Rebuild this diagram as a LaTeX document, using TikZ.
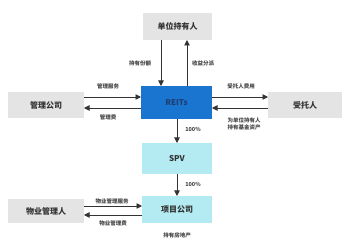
\documentclass[tikz,border=0pt]{standalone}
\usepackage{fontspec}
\setmainfont{Noto Sans CJK SC}
\usetikzlibrary{arrows.meta}
\definecolor{boxgrey}{HTML}{E4E4E4}
\definecolor{reitblue}{HTML}{1A75D0}
\definecolor{spvcyan}{HTML}{B4EAF1}
\definecolor{txt}{HTML}{333333}
\definecolor{reittxt}{HTML}{1E3E70}
\tikzset{
  x=1pt,y=-1pt,
  ent/.style={inner sep=0pt,font=\fontsize{8}{9}\selectfont\bfseries,text=txt},
  lbl/.style={inner sep=0pt,font=\fontsize{5.5}{6.7}\selectfont\bfseries,text=txt!90,align=left},
  flow/.style={draw=txt,line width=0.9pt,-{Triangle[length=5.5pt,width=5.5pt]}},
}
\begin{document}
\begin{tikzpicture}
\useasboundingbox (0,0) rectangle (350,245);
\fill[white] (0,0) rectangle (350,245);
% boxes
\fill[boxgrey] (143,13) rectangle (212,40);
\node[ent] (holder) at (177.5,26.5) {单位持有人};
\fill[reitblue] (141,86) rectangle (212,119);
\node[ent,text=reittxt] (reit) at (176.5,102.5) {REITs};
\fill[boxgrey] (8,92) rectangle (84,118);
\node[ent] (mgr) at (46,105) {管理公司};
\fill[boxgrey] (268,92) rectangle (342,118);
\node[ent] (trust) at (305,105) {受托人};
\fill[spvcyan] (142,143) rectangle (212,174);
\node[ent] (spv) at (177,158.5) {SPV};
\fill[spvcyan] (142,196) rectangle (212,223);
\node[ent] (proj) at (177,209.5) {项目公司};
\fill[boxgrey] (8,199) rectangle (84,223);
\node[ent] (prop) at (46,211) {物业管理人};
% coordinates for connectors
\coordinate (hA) at (161,40); \coordinate (rA) at (161,86);
\coordinate (hB) at (187,40); \coordinate (rB) at (187,86);
\coordinate (m1) at (84,97); \coordinate (r1) at (141,97);
\coordinate (m2) at (84,108); \coordinate (r2) at (141,108);
\coordinate (r3) at (212,97); \coordinate (t3) at (268,97);
\coordinate (r4) at (212,108); \coordinate (t4) at (268,108);
\coordinate (rS) at (177,119); \coordinate (sT) at (177,143);
\coordinate (sB) at (177,174); \coordinate (pT) at (177,196);
\coordinate (q1) at (84,206); \coordinate (p1) at (142,206);
\coordinate (q2) at (84,215); \coordinate (p2) at (142,215);
\draw[flow] (hA) -- (rA);
\draw[flow] (rB) -- (hB);
\draw[flow] (m1) -- (r1);
\draw[flow] (r2) -- (m2);
\draw[flow] (r3) -- (t3);
\draw[flow] (t4) -- (r4);
\draw[flow] (rS) -- (sT);
\draw[flow] (sB) -- (pT);
\draw[flow] (q1) -- (p1);
\draw[flow] (p2) -- (q2);
% labels
\node[lbl] (l1) at (140,63) {持有份额};
\node[lbl] (l2) at (203,63) {收益分派};
\node[lbl] (l3) at (108,86) {管理服务};
\node[lbl] (l4) at (108,117) {管理费};
\node[lbl] (l5) at (241,86) {受托人费用};
\node[lbl] (l6) at (244,124) {为单位持有人\\持有基金资产};
\node[lbl] (l7) at (193,129) {100\%};
\node[lbl] (l8) at (193,184) {100\%};
\node[lbl] (l9) at (112,201) {物业管理服务};
\node[lbl] (l10) at (113,223) {物业管理费};
\node[lbl] (l11) at (177,235) {持有房地产};
\end{tikzpicture}
\end{document}
